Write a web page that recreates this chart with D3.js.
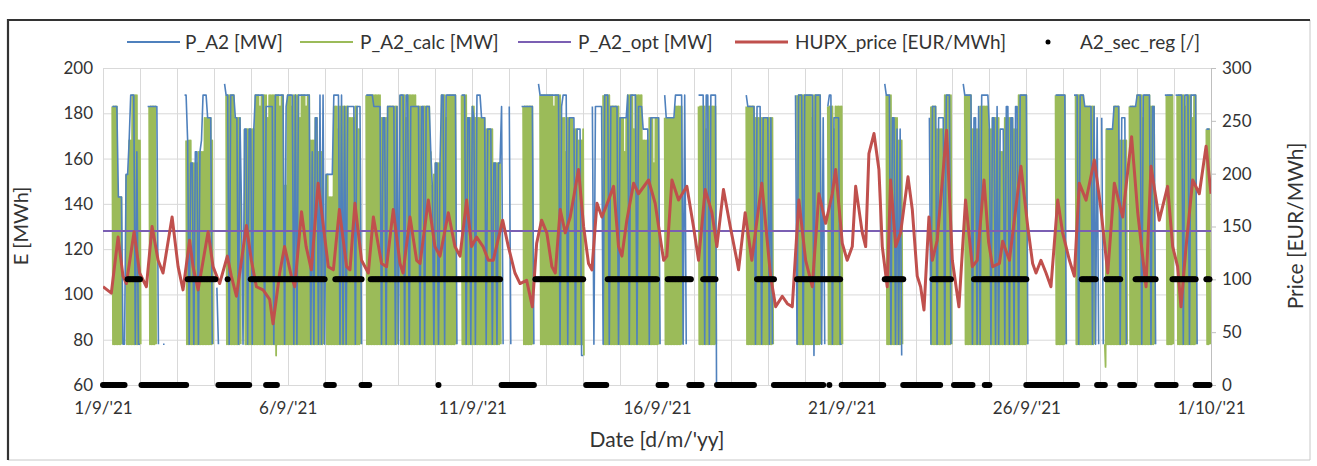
<!DOCTYPE html>
<html>
<head>
<meta charset="utf-8">
<script src="https://cdn.jsdelivr.net/npm/d3@7"></script>
<style>
  body { margin: 0; background: #fff; }
  text { font-family: Lato, "Open Sans", sans-serif; fill: #333; }
</style>
</head>
<body>
<svg id="chart" width="1317" height="466"></svg>
<script>
// ---- data (hour 0 = 1/9/'21 00:00, one month of hourly values) ----
var dayLabels = ["1/9/'21", "6/9/'21", "11/9/'21", "16/9/'21", "21/9/'21", "26/9/'21", "1/10/'21"];
var dayLabelHours = [0, 120, 240, 360, 480, 600, 720];
var energyTicks = [60, 80, 100, 120, 140, 160, 180, 200];
var priceTicks = [0, 50, 100, 150, 200, 250, 300];

// level code: A=68, B=73, C=78 ... Y=188, Z=193 ; "." = no value, "_" = 0
var levelKeys = "ABCDEFGHIJKLMNOPQRSTUVWXYZ";

// P_A2 [MW], one string per day, one level per hour (run-length: "4X" = XXXX)
var pA2 = [
  "6. 4X 3P 2C 2R U 3Y C T C",
  "C 4. 7X C 2. 2C 7.",
  "5. 2Y U C 2S C 2T C T U 3Y 3W C",
  "2. H C 3. Z 2Y C 3Y 2W C W O C 2V C V",
  "V C V 6Y C 5X C 6Y C X",
  "4Y C Y C 8Y C T C 2W C Y C Y",
  "C 5R 4Y C Y C X C 5X C 3X",
  "C 2. 5Y 5X C 2W C 5X C X",
  "C 3Y C 2Y C 6X C 2X C 3X T Q C",
  "2S C S 2Y C 7Y C 2. 3Y C 2W C",
  "X W C 3Y 3W C 3V C 2S C 2S X C 3.",
  "X C 6. 8X C 2. Z 4Y",
  "9Y C X 3Y C 4W C 3V B",
  "B 5. X C 5X C 3Y C 5X C",
  "5W Y C 4Y C 3X 4V C 4W",
  "2W C 2. Y 6W 5Y C Y C 4.",
  "3. 4Y C 2Y C 4Y _ 8.",
  "10. Y 5X C 3X C 3W",
  "W C W C 14. Y C 3Y C",
  "6Y B 4Y C W C . X 2Y C 4W C",
  "C 23.",
  "4. Z 3Y C 2W C V C V B 8.",
  "9. W C 3X C 4W C 3Y C",
  "7. Z 5Y C 2W C X C 5Y",
  "V C 2W C X C 3V C 2X C 2W C 2X C 4Y",
  "Y C 17. 5Y",
  "2Y C 4. 3Y C 3Y 5X C X C W C",
  ". W C . 5V 4X C 3W C . 5X",
  "3Y C 5Y C 2X C 5. 6Y",
  ". 5Y C 3Y C 4Y C 5. 3V"
];

// P_A2_calc [MW], one string per day, two levels per hour (:00 and :30)
var pA2Calc = [
  "6.. 4XC 3PC 2.. 2RC 2UC 4YC UC",
  "UC 5.. 5XC 13..",
  "6.. 4UC 4SC 4TC 5WC UC",
  "8.. 6YC 4WC 2.. 4VC",
  "3VC 3YC XC 4YC WC 4YC YB 2YC XC 2YC 2QC",
  "3YC XC 4YC WC 3YC XC 2YC 3UC 2WC 4TC",
  ".. 2RC 3PC 3XC VC 4XC 2XC 4WC 2XC 2VC",
  "3.. 5YC 5YC 4WC 7XC",
  ".. 4YC WC 6YC 3XC TC 5XC TC QC RC",
  "4SC 3YC WC 6YC 3.. 4YC 3WC",
  "2XC 7WC 5VC 5SC 5..",
  "9.. 7XC 4.. 4YC",
  "5YC XC 4YC 3WC TC 4WC 3VC 3UC",
  "VB 12.. 5YC 6XC",
  "3WC TC WC 4YC VC 5YC 4UC 3WC SC WC",
  "2WC 3.. 7WC 5XC 7..",
  "3.. 5XC VC 6XC 9..",
  "10.. 6XC 8WC",
  "4WC 15.. 5YC",
  "5YC WC 5YC 4.. 4XC VC 4XC",
  "XC 23..",
  "5.. 4YC 4WC 3UC 8..",
  "10.. 4XC 5VC 5YC",
  "8.. 5YC 5VC 6XC",
  "2VC 5WC 3TC 6WC 3VC 5YC",
  "YC 18.. 5YC",
  "2YC 6.. 6YC 7XC 3..",
  "3.. CA 5VC 4XC 5UC .. 5XC",
  "4YC WC 4YC 3XC 7.. 5YC",
  "2.. 5YC XC 4YC WC 2YC 6.. 3VC"
];

// P_A2_opt [MW]
var pA2Opt = [[0, 128], [720, 128]];

// HUPX_price [EUR/MWh]  [hour, price]
var hupxPrice = [
  [0,93],[5.4,87],[9.8,140],[13,103],[15.2,96],[20.2,145],[23.8,106],[28.2,93],[31.9,150],[35.8,118],
  [39,106],[44.9,159],[48.8,112],[52,90],[56.3,137],[58.5,112],[61.8,90],[68.3,145],[71.5,112],[75.8,96],
  [80.8,122],[83.4,103],[86.7,84],[93.2,151],[96.4,118],[99.7,93],[104,90],[108.3,81],[110.5,58],[114.8,106],
  [118,131],[122.4,103],[124.6,93],[129,164],[132,131],[135.4,109],[139.8,191],[146.4,112],[149.7,109],[153.6,166],
  [158.3,112],[160.5,109],[163.7,172],[168,118],[172.4,106],[175.7,159],[181,115],[184.3,112],[188.6,166],[193,115],
  [195,106],[199.5,159],[203.8,118],[206,115],[211.4,175],[215.7,131],[219,122],[224.4,163],[228.7,131],[232,122],
  [236.3,175],[239.5,131],[242.8,140],[247,131],[250.4,118],[253.6,118],[259.7,156],[263.4,131],[267.7,106],[271,96],
  [275.3,99],[279,74],[281.8,134],[285,156],[288.4,144],[291.7,112],[293.9,106],[297.1,166],[300.4,144],[303.6,159],
  [309,204],[312.3,150],[315.5,115],[317.7,109],[321,172],[324.2,159],[328.5,175],[331.8,188],[335,131],[337.2,122],
  [340.4,156],[344.8,191],[348,181],[354.5,194],[358.8,172],[364.3,118],[366.4,122],[369.7,194],[374,175],[379.4,188],
  [383.7,150],[387,118],[391.3,185],[395.7,163],[398.9,131],[403.2,185],[407.6,150],[411.9,118],[413,109],[417.3,163],
  [421.6,118],[428.1,191],[433.8,103],[437.1,74],[441.4,84],[444.7,77],[447.9,74],[452.2,175],[456.6,118],[460.9,93],
  [465.2,181],[469.6,153],[473.9,181],[476.1,204],[480.4,134],[483.6,118],[486.9,131],[489.1,188],[493.4,144],[495.6,131],
  [497.7,219],[501,238],[504.2,204],[506.4,131],[509.6,93],[511.8,194],[515.1,131],[518.3,144],[523.1,197],[525.9,166],
  [529.1,103],[531.3,93],[533.5,71],[536.7,159],[538.9,118],[542.1,137],[548.2,241],[551.9,118],[556.2,74],[560.5,175],
  [564.9,112],[568.1,118],[572.5,194],[575.5,135],[578.1,112],[582.5,115],[584.6,136],[589,118],[596.5,207],[600.9,150],
  [604.1,115],[606.3,106],[609.5,118],[612.8,106],[616,93],[620.4,175],[623.6,144],[628,118],[631.2,103],[634.4,191],
  [638.8,175],[644.2,213],[648.5,166],[652.9,106],[657.2,191],[662.6,159],[668.4,235],[672.4,163],[677.8,93],[681,207],
  [686.4,156],[691.8,188],[695.1,131],[698.3,112],[700.5,74],[703.8,131],[708.1,194],[712.4,181],[716.8,226],[720,181]
];

// A2_sec_reg [/] : hour ranges with value 1 and with value 0
var secRegOn = [[16,24],[55,73],[81,81],[96,144],[151,168],[174,258],[281,312],[328,360],[367,382],[390,398],
  [425,436],[451,479],[508,520],[539,551],[566,600],[636,645],[652,661],[671,684],[695,710],[717,719]];
var secRegOff = [[0,14],[25,54],[75,95],[106,113],[145,150],[168,173],[218,218],[259,280],[314,327],[361,366],
  [381,389],[399,423],[436,468],[472,472],[480,507],[520,544],[553,565],[573,576],[600,633],[646,651],
  [661,670],[685,697],[710,719]];

// ---- decoding ----
function expand(code) {
  return code.split(" ").map(function(tok) {
    var m = tok.match(/^(\d*)(.+)$/);
    return m[2].repeat(m[1] ? +m[1] : 1);
  }).join("");
}
function level(ch) {
  if (ch == ".") return null;
  if (ch == "_") return 0;
  return 68 + 5 * levelKeys.indexOf(ch);
}
function decodeDays(days, perHour) {
  var pts = [];
  days.forEach(function(code, d) {
    var s = expand(code).padEnd(24 * perHour, ".").slice(0, 24 * perHour);
    for (var i = 0; i < s.length; i++) {
      pts.push({t: d * 24 + i / perHour, v: level(s[i])});
    }
  });
  return pts;
}
var bluePts = decodeDays(pA2, 1);
var greenPts = decodeDays(pA2Calc, 2);
var regPts = [];
secRegOn.forEach(function(r) { for (var h = r[0]; h <= r[1]; h++) regPts.push({t: h, v: 1}); });
secRegOff.forEach(function(r) { for (var h = r[0]; h <= r[1]; h++) regPts.push({t: h, v: 0}); });

// ---- layout ----
var svg = d3.select("#chart");
var plot = {left: 103, right: 1211, top: 68, bottom: 385};
var x = d3.scaleLinear().domain([0, 720]).range([plot.left, plot.right]);
var yE = d3.scaleLinear().domain([60, 200]).range([plot.bottom, plot.top]);
var yP = d3.scaleLinear().domain([0, 300]).range([plot.bottom, plot.top]);

svg.append("rect").attr("width", 1317).attr("height", 466).attr("fill", "#fff");

// frame
svg.append("path").attr("d", "M1310,20V460H8").attr("fill", "none").attr("stroke", "#c8c8c8").attr("stroke-width", 1);
svg.append("path").attr("d", "M8,460V20H1310").attr("fill", "none").attr("stroke", "#333").attr("stroke-width", 2.2);

svg.append("defs").append("clipPath").attr("id", "clip")
  .append("rect").attr("x", plot.left).attr("y", plot.top)
  .attr("width", plot.right - plot.left).attr("height", plot.bottom - plot.top);

// gridlines
var grid = svg.append("g").attr("stroke", "#d9d9d9").attr("stroke-width", 1);
grid.selectAll(".h").data(energyTicks).enter().append("line")
  .attr("x1", plot.left).attr("x2", plot.right)
  .attr("y1", function(d) { return yE(d) + 0.5; }).attr("y2", function(d) { return yE(d) + 0.5; });
grid.selectAll(".v").data(d3.range(0, 721, 24)).enter().append("line")
  .attr("y1", plot.top).attr("y2", plot.bottom)
  .attr("x1", function(d) { return Math.round(x(d)) + 0.5; }).attr("x2", function(d) { return Math.round(x(d)) + 0.5; });

// axes
var axL = svg.append("g").attr("transform", "translate(" + plot.left + ",0)")
  .call(d3.axisLeft(yE).tickValues(energyTicks).tickSize(0).tickPadding(10));
axL.select(".domain").remove();
var axR = svg.append("g").attr("transform", "translate(" + plot.right + ",0)")
  .call(d3.axisRight(yP).tickValues(priceTicks).tickSize(5).tickPadding(6));
axR.select(".domain").attr("stroke", "#bfbfbf");
axR.selectAll("line").attr("stroke", "#bfbfbf");
var axB = svg.append("g").attr("transform", "translate(0," + plot.bottom + ")")
  .call(d3.axisBottom(x).tickValues(dayLabelHours).tickSize(0).tickPadding(17)
    .tickFormat(function(d, i) { return dayLabels[i]; }));
axB.select(".domain").remove();
svg.selectAll(".tick text").attr("font-size", 17).attr("fill", "#333")
  .style("font-family", "Lato, 'Open Sans', sans-serif");

// axis titles
svg.append("text").attr("transform", "translate(28,226) rotate(-90)")
  .attr("text-anchor", "middle").attr("font-size", 20).text("E [MWh]");
svg.append("text").attr("transform", "translate(1296,226) rotate(-90)")
  .attr("text-anchor", "middle").attr("dy", "0.35em").attr("font-size", 21).text("Price [EUR/MWh]");
svg.append("text").attr("x", 657).attr("y", 447)
  .attr("text-anchor", "middle").attr("font-size", 21).text("Date [d/m/'yy]");

// series
var marks = svg.append("g").attr("clip-path", "url(#clip)");
var lineE = d3.line().defined(function(d) { return d.v != null; })
  .x(function(d) { return x(d.t); }).y(function(d) { return yE(d.v); });

marks.append("path").datum(greenPts).attr("d", lineE)
  .attr("fill", "none").attr("stroke", "#9bbb59").attr("stroke-width", 1.8).attr("stroke-linejoin", "round");
marks.append("path").datum(bluePts).attr("d", lineE)
  .attr("fill", "none").attr("stroke", "#4f81bd").attr("stroke-width", 1.6).attr("stroke-linejoin", "round");
marks.append("path").datum(pA2Opt)
  .attr("d", d3.line().x(function(d) { return x(d[0]); }).y(function(d) { return yE(d[1]); }))
  .attr("fill", "none").attr("stroke", "#7b5fb3").attr("stroke-width", 2);
marks.append("path").datum(hupxPrice)
  .attr("d", d3.line().x(function(d) { return x(d[0]); }).y(function(d) { return yP(d[1]); }))
  .attr("fill", "none").attr("stroke", "#c0504d").attr("stroke-width", 3).attr("stroke-linejoin", "round");
svg.append("g").selectAll("circle").data(regPts).enter().append("circle")
  .attr("cx", function(d) { return x(d.t); })
  .attr("cy", function(d) { return yP(d.v * 100); })
  .attr("r", 3).attr("fill", "#000");

// legend
var legend = [
  {label: "P_A2 [MW]", color: "#4f81bd", x: 127, tx: 185},
  {label: "P_A2_calc [MW]", color: "#9bbb59", x: 300, tx: 360},
  {label: "P_A2_opt [MW]", color: "#7b5fb3", x: 518, tx: 578},
  {label: "HUPX_price [EUR/MWh]", color: "#c0504d", x: 735, tx: 795},
  {label: "A2_sec_reg [/]", color: "#000", x: 1048, tx: 1080, dot: true}
];
var lg = svg.append("g").selectAll("g").data(legend).enter().append("g");
lg.filter(function(d) { return !d.dot; }).append("line")
  .attr("x1", function(d) { return d.x; }).attr("x2", function(d) { return d.x + 53; })
  .attr("y1", 42).attr("y2", 42).attr("stroke", function(d) { return d.color; })
  .attr("stroke-width", function(d) { return d.label.indexOf("HUPX") == 0 ? 3 : 2; });
lg.filter(function(d) { return d.dot; }).append("circle")
  .attr("cx", function(d) { return d.x; }).attr("cy", 42).attr("r", 2.5).attr("fill", "#000");
lg.append("text").attr("x", function(d) { return d.tx; }).attr("y", 42).attr("dy", "0.35em")
  .attr("font-size", 19).text(function(d) { return d.label; });
</script>
</body>
</html>
